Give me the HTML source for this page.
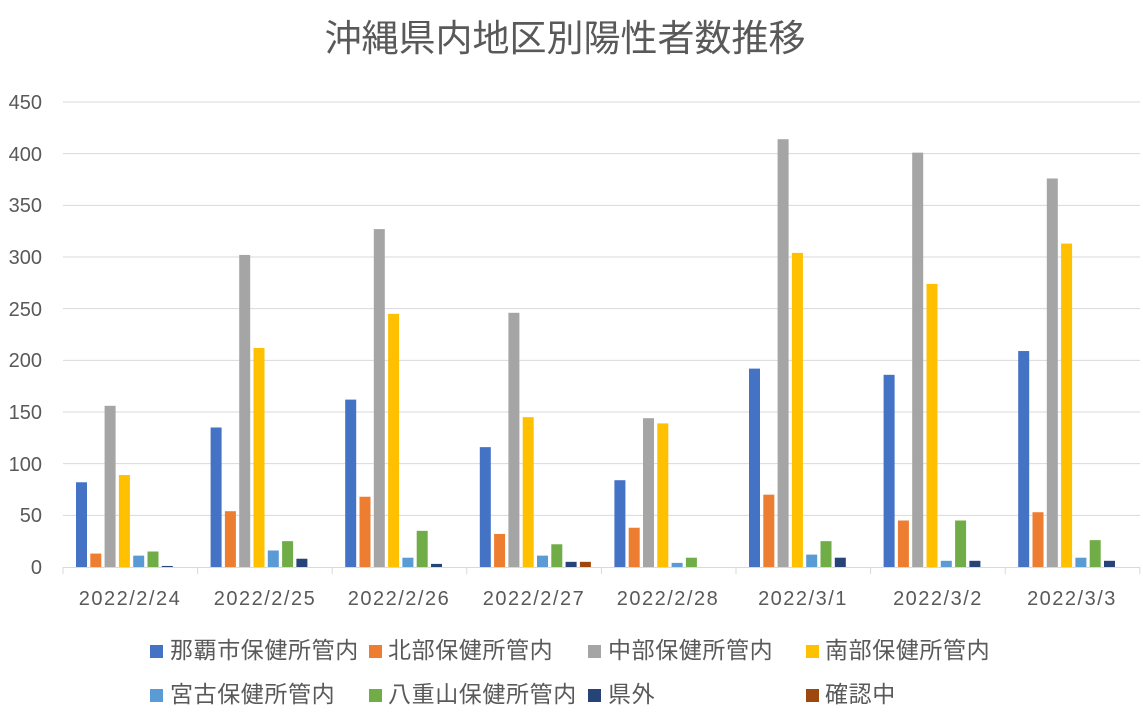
<!DOCTYPE html>
<html><head><meta charset="utf-8"><style>
html,body{margin:0;padding:0;background:#fff;}
svg text{font-family:"Liberation Sans","Noto Sans CJK JP",sans-serif;fill:#595959;}
</style></head><body>
<svg id="c" width="1143" height="723" xmlns="http://www.w3.org/2000/svg">
<rect width="1143" height="723" fill="#fff"/>
<text x="565" y="51" font-size="37" text-anchor="middle">沖縄県内地区別陽性者数推移</text>
<g id="grid" stroke="#d9d9d9" stroke-width="1"></g>
<g font-size="20" text-anchor="end">
<text x="42" y="574">0</text><text x="42" y="522">50</text><text x="42" y="471">100</text>
<text x="42" y="419">150</text><text x="42" y="367">200</text><text x="42" y="316">250</text>
<text x="42" y="264">300</text><text x="42" y="212">350</text><text x="42" y="161">400</text>
<text x="42" y="109">450</text>
</g>
<g id="bars"></g>
<g font-size="20" text-anchor="middle" letter-spacing="1.5">
<text x="130" y="605">2022/2/24</text><text x="265" y="605">2022/2/25</text>
<text x="399" y="605">2022/2/26</text><text x="534" y="605">2022/2/27</text>
<text x="668" y="605">2022/2/28</text><text x="803" y="605">2022/3/1</text>
<text x="938" y="605">2022/3/2</text><text x="1072" y="605">2022/3/3</text>
</g>
<g font-size="23" letter-spacing="0.6">
<rect x="150" y="645" width="13" height="13" fill="#4472C4"/><text x="170" y="658">那覇市保健所管内</text>
<rect x="369" y="645" width="13" height="13" fill="#ED7D31"/><text x="388" y="658">北部保健所管内</text>
<rect x="588" y="645" width="13" height="13" fill="#A5A5A5"/><text x="608" y="658">中部保健所管内</text>
<rect x="806" y="645" width="13" height="13" fill="#FFC000"/><text x="825" y="658">南部保健所管内</text>
<rect x="150" y="689" width="13" height="13" fill="#5B9BD5"/><text x="170" y="702">宮古保健所管内</text>
<rect x="369" y="689" width="13" height="13" fill="#70AD47"/><text x="388" y="702">八重山保健所管内</text>
<rect x="588" y="689" width="13" height="13" fill="#264478"/><text x="608" y="702">県外</text>
<rect x="806" y="689" width="13" height="13" fill="#9E480E"/><text x="825" y="702">確認中</text>
</g>
</svg>
<script>
var ns="http://www.w3.org/2000/svg";
var g=document.getElementById('grid');
function el(p,t,a){var e=document.createElementNS(ns,t);for(var k in a)e.setAttribute(k,a[k]);p.appendChild(e);return e;}
for(var i=1;i<=9;i++){var y=567-i*51.667;el(g,'line',{x1:63,x2:1140,y1:y,y2:y});}
el(g,'line',{x1:63,x2:1140,y1:567.5,y2:567.5});
for(var i=0;i<=8;i++){var x=63+i*134.6;el(g,'line',{x1:x,x2:x,y1:567,y2:574});}
var cols=["#4472C4","#ED7D31","#A5A5A5","#FFC000","#5B9BD5","#70AD47","#264478","#9E480E"];
var d=[[82,13,156,89,11,15,1,0],[135,54,302,212,16,25,8,0],[162,68,327,245,9,35,3,0],[116,32,246,145,11,22,5,5],
[84,38,144,139,4,9,0,0],[192,70,414,304,12,25,9,0],[186,45,401,274,6,45,6,0],[209,53,376,313,9,26,6,0]];
var b=document.getElementById('bars');
d.forEach(function(r,gi){r.forEach(function(v,si){if(!v)return;var h=v*1.0333;
el(b,'rect',{x:63+gi*134.6+13+si*14.3,y:567-h,width:11,height:h,fill:cols[si]});});});
</script>
</body></html>
